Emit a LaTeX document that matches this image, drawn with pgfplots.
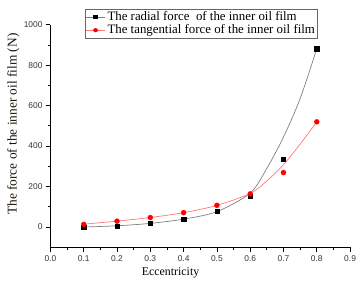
\documentclass[border=0pt]{standalone}
\usepackage{fontspec}
\setmainfont{Liberation Serif}
\newfontfamily\arial{Liberation Sans}
\usepackage{pgfplots}
\pgfplotsset{compat=1.18}
\definecolor{linegray}{RGB}{128,128,128}
\definecolor{linered}{RGB}{255,120,120}
\begin{document}
\begin{tikzpicture}
\begin{axis}[
  scale only axis,
  width=303pt, height=225pt,
  xmin=0, xmax=0.9, ymin=-100, ymax=1000,
  axis x line*=bottom, axis y line*=left,
  axis line style={black, line width=0.8pt},
  xtick={0,0.1,...,0.9}, ytick={0,200,...,1000},
  minor x tick num=1, minor y tick num=1,
  tick align=outside,
  major tick length=4.5pt, minor tick length=2.5pt,
  tick style={black, line width=0.8pt},
  xticklabel style={/pgf/number format/fixed, /pgf/number format/fixed zerofill, /pgf/number format/precision=1},
  /pgf/number format/1000 sep={},
  /pgf/number format/assume math mode=true,
  tick label style={font=\arial\fontsize{8.5}{10}\selectfont, text=black!80},
  xlabel={Eccentricity},
  ylabel={The force of the inner oil film (N)},
  xlabel style={font=\fontsize{12}{14}\selectfont, at={(axis description cs:0.401,-0.113)}, anchor=center},
  ylabel style={font=\fontsize{13.5}{15}\selectfont, text=black!85!brown, at={(axis description cs:-0.124,0.553)}, anchor=center},
  legend style={at={(axis description cs:0.1145,1.07)}, anchor=north west,
    draw=black!60, line width=0.6pt, font=\fontsize{13}{14}\selectfont,
    inner sep=0.5pt, row sep=-1.5pt, cells={anchor=west}},
  legend cell align=left,
  legend image post style={xscale=1.15},
  clip=false,
]
\addlegendimage{linegray, line width=0.6pt, mark=square*, mark size=1.6pt, mark options={black, fill=black}}
\addlegendentry{The radial force\ \ of the inner oil film}
\addlegendimage{linered, line width=0.6pt, mark=*, mark size=1.8pt, mark options={red, fill=red}}
\addlegendentry{The tangential force of the inner oil film}
% fitted curves
\addplot[linegray, line width=0.7pt, smooth, forget plot] coordinates {
(0.1,0) (0.2,6) (0.3,18) (0.4,39) (0.5,76) (0.6,168) (0.65,290) (0.7,445) (0.75,635) (0.8,882)};
\addplot[linered, line width=0.7pt, smooth, forget plot] coordinates {
(0.1,14) (0.2,29) (0.3,47) (0.4,71) (0.5,107) (0.6,166) (0.65,228) (0.7,308) (0.75,410) (0.8,520)};
% data points
\addplot[only marks, mark=square*, mark size=2.2pt, black, forget plot] coordinates {
(0.1,0) (0.2,5) (0.3,18) (0.4,38) (0.5,78) (0.6,153) (0.7,335) (0.8,882)};
\addplot[only marks, mark=*, mark size=2.5pt, red, forget plot] coordinates {
(0.1,13) (0.2,29) (0.3,47) (0.4,71) (0.5,107) (0.6,164) (0.7,269) (0.8,520)};
\coordinate (bl) at (rel axis cs:0,0);
\coordinate (tr) at (rel axis cs:1,1);
\end{axis}
\pgfresetboundingbox
\path[use as bounding box] ([shift={(-51pt,-38pt)}]bl) rectangle ([shift={(8pt,25pt)}]tr);
\end{tikzpicture}
\end{document}
